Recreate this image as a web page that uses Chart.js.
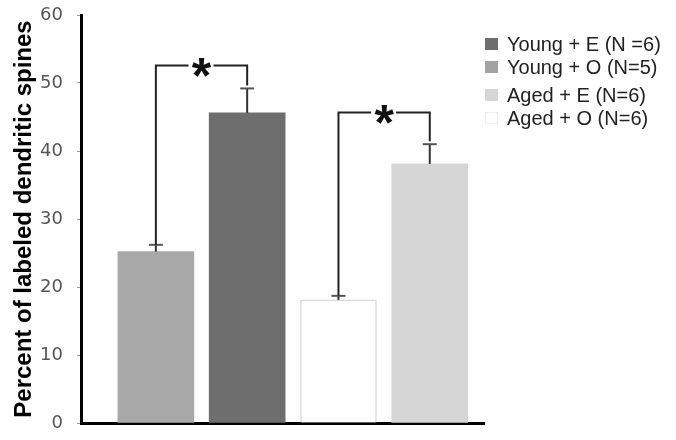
<!DOCTYPE html>
<html>
<head>
<meta charset="utf-8">
<script src="https://cdn.jsdelivr.net/npm/chart.js@4"></script>
<style>
  html, body { margin: 0; padding: 0; background: #fff; }
  #wrap { width: 676px; height: 440px; }
</style>
</head>
<body>
<div id="wrap"><canvas id="barChart" width="676" height="440"></canvas></div>
<script>
// values
const categories = ['Young + O', 'Young + E', 'Aged + O', 'Aged + E'];
const xPositions = [1, 2, 3, 4];
const means = [25.2, 45.6, 18.1, 38.1];
const errorTops = [26.2, 49.2, 18.7, 41.0];
const barColors = ['#a9a9a9', '#6e6e6e', '#ffffff', '#d6d6d6'];
const barBorders = ['#a9a9a9', '#6e6e6e', '#d9d9d9', '#d6d6d6'];
const yTicks = [0, 10, 20, 30, 40, 50, 60];

// significance brackets: pair of bar indexes and bracket height
const sigPairs = [[0, 1], [2, 3]];
const sigLevels = [52.7, 45.7];

const legendLabels = ['Young + E (N =6)', 'Young + O (N=5)', 'Aged + E (N=6)', 'Aged + O (N=6)'];
const legendColors = ['#6e6e6e', '#a3a3a3', '#d6d6d6', '#ffffff'];

// error bars, brackets and legend
const extrasPlugin = {
    id: 'extras',
    afterDatasetsDraw(chart) {
        const ctx = chart.ctx;
        const xs = chart.scales.x;
        const ys = chart.scales.y;
        ctx.save();
        ctx.lineCap = 'butt';

        // error bars
        means.forEach((m, i) => {
            const x = xs.getPixelForValue(xPositions[i]);
            const y0 = ys.getPixelForValue(m);
            const y1 = ys.getPixelForValue(errorTops[i]);
            ctx.strokeStyle = '#333';
            ctx.lineWidth = 2;
            ctx.beginPath();
            ctx.moveTo(x, y0);
            ctx.lineTo(x, y1);
            ctx.stroke();
            ctx.strokeStyle = '#555';
            ctx.beginPath();
            ctx.moveTo(x - 7, y1);
            ctx.lineTo(x + 7, y1);
            ctx.stroke();
        });

        // brackets with asterisks
        sigPairs.forEach((pair, k) => {
            const [a, b] = pair;
            const xa = xs.getPixelForValue(xPositions[a]);
            const xb = xs.getPixelForValue(xPositions[b]);
            const ya = ys.getPixelForValue(errorTops[a]);
            const yb = ys.getPixelForValue(errorTops[b]) - 3;
            const yl = Math.round(ys.getPixelForValue(sigLevels[k])) + 0.5;
            const xc = (xa + xb) / 2;
            ctx.strokeStyle = '#222';
            ctx.lineWidth = 2;
            ctx.beginPath();
            ctx.moveTo(xa, ya);
            ctx.lineTo(xa, yl);
            ctx.lineTo(xc - 13, yl);
            ctx.moveTo(xc + 12, yl);
            ctx.lineTo(xb, yl);
            ctx.lineTo(xb, yb);
            ctx.stroke();

            ctx.fillStyle = '#111';
            ctx.font = 'bold 50px "Liberation Sans", Arial, sans-serif';
            ctx.textAlign = 'center';
            ctx.textBaseline = 'alphabetic';
            const m = ctx.measureText('*');
            const mid = (m.actualBoundingBoxAscent - m.actualBoundingBoxDescent) / 2;
            ctx.fillText('*', xc, yl + 2 + mid);
        });

        // legend
        const rowsY = [44, 67, 95, 118];
        ctx.font = '20px "Liberation Sans", Arial, sans-serif';
        ctx.textAlign = 'left';
        ctx.textBaseline = 'middle';
        legendLabels.forEach((lab, i) => {
            const y = rowsY[i];
            ctx.fillStyle = legendColors[i];
            ctx.fillRect(485, y - 6, 13, 12);
            if (legendColors[i] === '#ffffff') {
                ctx.strokeStyle = '#eeeeee';
                ctx.lineWidth = 1;
                ctx.strokeRect(485.5, y - 5.5, 12, 11);
            }
            ctx.fillStyle = '#222';
            ctx.fillText(lab, 507, y + 1);
        });
        ctx.restore();
    }
};

function renderBarChart() {
    const ctx = document.getElementById('barChart').getContext('2d');
    new Chart(ctx, {
        type: 'bar',
        data: {
            labels: categories,
            datasets: [{
                label: 'Percent of labeled dendritic spines',
                data: means.map((v, i) => ({ x: xPositions[i], y: v })),
                backgroundColor: barColors,
                borderColor: barBorders,
                borderWidth: [0, 0, 1.5, 0],
                barThickness: 76
            }]
        },
        options: {
            responsive: false,
            animation: false,
            layout: { padding: { top: 15, right: 192, bottom: 17, left: 0 } },
            plugins: {
                legend: { display: false },
                tooltip: { enabled: false }
            },
            scales: {
                x: {
                    type: 'linear',
                    offset: false,
                    min: 0.18,
                    max: 4.594,
                    grid: { display: false, drawTicks: false },
                    ticks: { display: false },
                    border: { display: true, color: '#000', width: 3 }
                },
                y: {
                    min: 0,
                    max: 60,
                    afterBuildTicks: (scale) => { scale.ticks = yTicks.map(v => ({ value: v })); },
                    afterFit: (scale) => {
                        scale.width = 81;
                        scale.paddingTop = 0;
                        scale.paddingBottom = 0;
                    },
                    grid: { drawOnChartArea: false, drawTicks: true, tickLength: 4, color: '#999', tickColor: '#999' },
                    border: { display: true, color: '#000', width: 3 },
                    ticks: {
                        color: '#555',
                        padding: 14,
                        font: { family: '"DejaVu Sans", Verdana, sans-serif', size: 18 }
                    },
                    title: {
                        display: true,
                        text: 'Percent of labeled dendritic spines',
                        color: '#000',
                        padding: { top: 10, bottom: 0 },
                        font: { family: '"Liberation Sans", Arial, sans-serif', size: 24, weight: 'bold' }
                    }
                }
            }
        },
        plugins: [extrasPlugin]
    });
}

renderBarChart();
</script>
</body>
</html>
